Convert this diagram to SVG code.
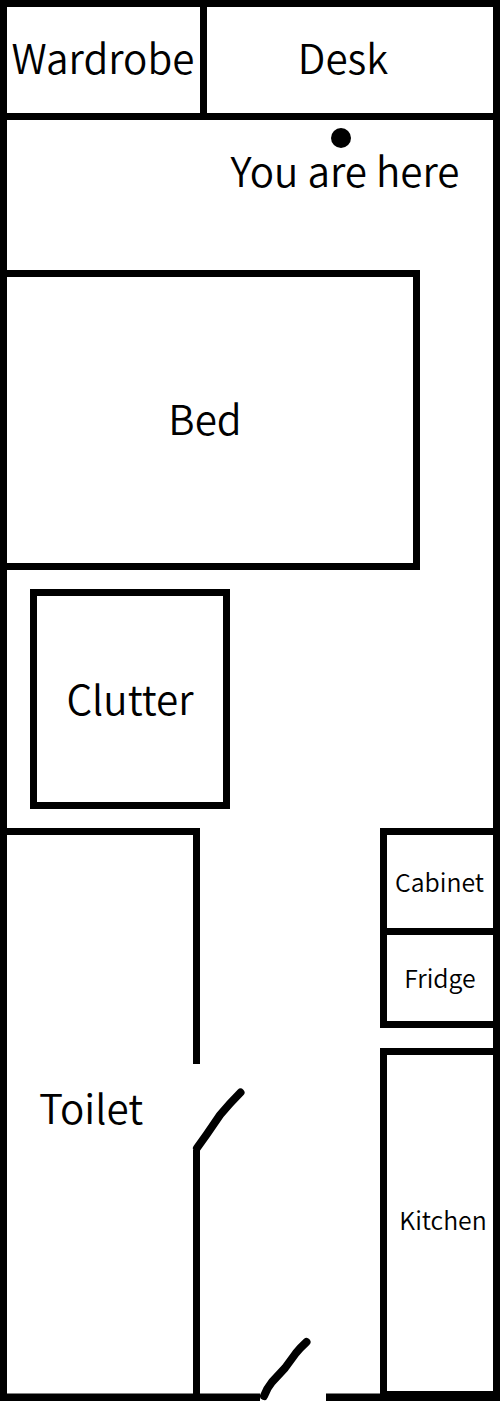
<svg xmlns="http://www.w3.org/2000/svg" width="500" height="1401" viewBox="0 0 500 1401">
<style>
.w{fill:#000}
.o{fill:#fff;stroke:#000;stroke-width:7}
.d{fill:none;stroke:#000;stroke-width:8;stroke-linecap:round;stroke-linejoin:round}
text{font-family:"Noto Sans CJK JP","Noto Sans",sans-serif;font-weight:350;fill:#000;text-anchor:middle}
.l{font-size:40.400px}
.s{font-size:24.800px}
</style>
<rect width="500" height="1401" fill="#fff"/>
<g id="walls">
<rect class="w" x="0" y="0" width="7" height="1401"/>
<rect class="w" x="493" y="0" width="7" height="1401"/>
<rect class="w" x="0" y="0" width="500" height="7"/>
<rect class="w" x="0" y="1393.500" width="260" height="7.500"/>
<rect class="w" x="326" y="1393.500" width="174" height="7.500"/>
<rect class="w" x="380" y="1391" width="120" height="10"/>
</g>
<g id="wardrobe"><rect class="w" x="200" y="0" width="7" height="120"/><text class="l" x="103" y="74">Wardrobe</text></g>
<g id="desk"><rect class="w" x="0" y="113" width="500" height="7"/><text class="l" x="343" y="74">Desk</text></g>
<g id="here"><circle cx="341" cy="138" r="10"/><text class="l" x="345" y="187">You are here</text></g>
<g id="bed"><path class="w" d="M0 270H420V570H0V563H413V277H0Z"/><text class="l" x="205" y="435">Bed</text></g>
<g id="clutter"><rect class="o" x="33.500" y="592.500" width="193" height="213"/><text class="l" x="130" y="715">Clutter</text></g>
<g id="toilet"><path class="w" d="M0 828H200V1064H193V835H0Z"/><rect class="w" x="193" y="1150" width="7" height="245"/><text class="l" x="91" y="1124">Toilet</text></g>
<g id="cabinet"><path class="w" d="M380 828H500V835H387V928H500V935H387V1021H500V1028H380Z"/><text class="s" x="439.500" y="891.500">Cabinet</text></g>
<g id="fridge"><text class="s" x="440" y="987.500">Fridge</text></g>
<g id="kitchen"><path class="w" d="M380 1048H500V1055H387V1395H380Z"/><text class="s" x="443" y="1229.500">Kitchen</text></g>
<g id="connectors">
<path class="d" d="M197 1148L207 1134L220 1115Q230 1103 240.500 1092.500"/>
<path class="d" d="M264 1396Q267 1388 272 1382L285 1368L296 1353Q300 1348 306.500 1342"/>
</g>
</svg>
